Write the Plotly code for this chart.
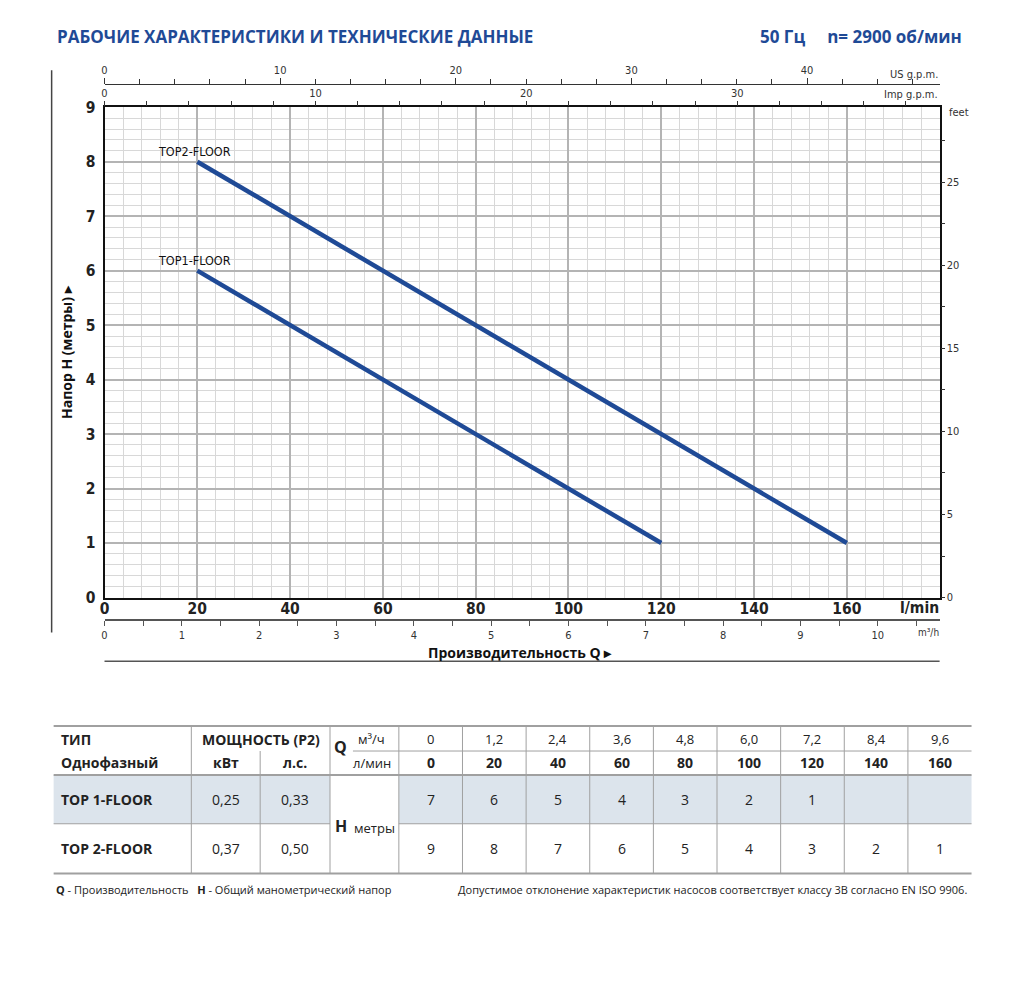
import plotly.graph_objects as go

# данные таблицы
q_lmin = [0, 20, 40, 60, 80, 100, 120, 140, 160]
q_m3h = ["0", "1,2", "2,4", "3,6", "4,8", "6,0", "7,2", "8,4", "9,6"]
models = ["TOP 1-FLOOR", "TOP 2-FLOOR"]
curve_labels = ["TOP1-FLOOR", "TOP2-FLOOR"]
power_kw = ["0,25", "0,37"]
power_hp = ["0,33", "0,50"]
head_top1 = [7, 6, 5, 4, 3, 2, 1]
head_top2 = [9, 8, 7, 6, 5, 4, 3, 2, 1]

# коэффициенты пересчёта
LMIN_PER_USGPM = 3.785411784
LMIN_PER_IMPGPM = 4.54609
M_PER_FT = 0.3048

# размер фигуры и поправка на поля страницы
OFF = 8
W, H = 1024 - 2 * OFF, 997 - 2 * OFF
BLUE = '#1f4a96'
NARROW = 'DejaVu Sans Condensed, Liberation Sans Narrow, sans-serif'
SANS = 'Open Sans, Noto Sans, sans-serif'


def px(x):
    x = (x - 3.3) / 0.9973
    return (x - OFF) / W


def py(y):
    y = (y - 6.6) / 0.985
    return 1 - (y - OFF) / H


fig = go.Figure()

curves = [(curve_labels[0], head_top1), (curve_labels[1], head_top2)]

# кривые (точка Q=0 в таблице не рисуется)
for name, heads in curves:
    fig.add_trace(go.Scatter(
        x=q_lmin[1:len(heads)], y=heads[1:], mode='lines', name=name,
        line=dict(color=BLUE, width=4.5), hoverinfo='skip'))

# те же кривые в других единицах, невидимые - чтобы появились доп. оси
for name, heads in curves:
    qs = q_lmin[1:len(heads)]
    fig.add_trace(go.Scatter(x=[q / LMIN_PER_USGPM for q in qs], y=heads[1:], xaxis='x2', yaxis='y',
                             mode='lines', opacity=0, hoverinfo='skip'))
    fig.add_trace(go.Scatter(x=[q / LMIN_PER_IMPGPM for q in qs], y=heads[1:], xaxis='x3', yaxis='y',
                             mode='lines', opacity=0, hoverinfo='skip'))
    fig.add_trace(go.Scatter(x=[q * 60 / 1000 for q in qs], y=heads[1:], xaxis='x4', yaxis='y',
                             mode='lines', opacity=0, hoverinfo='skip'))
    fig.add_trace(go.Scatter(x=qs, y=[h / M_PER_FT for h in heads[1:]], xaxis='x', yaxis='y2',
                             mode='lines', opacity=0, hoverinfo='skip'))

annotations = []
shapes = []

for name, heads in curves:
    annotations.append(dict(x=q_lmin[1], y=heads[1], xref='x', yref='y', text=name,
                            showarrow=False, xanchor='center', yanchor='bottom',
                            xshift=-3, yshift=1,
                            font=dict(family=NARROW, size=12.5, color='#111')))

# заголовок
annotations.append(dict(x=px(53), y=py(34), xref='paper', yref='paper', xanchor='left', yanchor='middle',
                        text='<b>РАБОЧИЕ ХАРАКТЕРИСТИКИ И ТЕХНИЧЕСКИЕ ДАННЫЕ</b>', showarrow=False,
                        font=dict(family=SANS, size=17, color=BLUE)))
annotations.append(dict(x=px(964), y=py(34), xref='paper', yref='paper', xanchor='right', yanchor='middle',
                        text='<b>50 Гц     n= 2900 об/мин</b>', showarrow=False,
                        font=dict(family=SANS, size=17, color=BLUE)))

# подписи осей
small = dict(family=NARROW, size=11, color='#333')
ax_notes = [
    dict(x=px(940), y=py(72), text='US g.p.m.', xanchor='right', font=small),
    dict(x=px(940), y=py(92), text='Imp g.p.m.', xanchor='right', font=small),
    dict(x=px(947), y=py(110), text='feet', xanchor='left', font=small),
    dict(x=px(941), y=py(607), text='l/min', xanchor='right',
         font=dict(family=NARROW, size=15.5, color='#222', weight='bold')),
    dict(x=px(941), y=py(632), text='m³/h', xanchor='right', font=dict(family=NARROW, size=10, color='#333')),
    dict(x=px(519), y=py(652), text='<b>Производительность Q ▸</b>', xanchor='center',
         font=dict(family=SANS, size=14, color='#111')),
    dict(x=px(65), y=py(351), text='<b>Напор H (метры) ▸</b>', xanchor='center', textangle=-90,
         font=dict(family=SANS, size=14, color='#111')),
]
for a in ax_notes:
    a.update(xref='paper', yref='paper', yanchor='middle', showarrow=False)
annotations += ax_notes

shapes.append(dict(type='line', xref='paper', yref='paper', x0=px(50), x1=px(50), y0=py(68), y1=py(632),
                   line=dict(color='#444', width=1.5)))
shapes.append(dict(type='line', xref='paper', yref='paper', x0=px(103), x1=px(940), y0=py(661), y1=py(661),
                   line=dict(color='#555', width=1.5)))

# таблица
tl, tr = 52, 972
c_typ, c_kw, c_hp, c_val = 190, 259, 329, 398
cw = (tr - c_val) / len(q_lmin)
y_top, y_mid, y_hdr, y_r1, y_bot = 726, 751, 775, 824, 874
GRID = '#a0a0a0'
SHADE = '#dce4ec'


def rect(x0, x1, y0, y1):
    shapes.append(dict(type='rect', xref='paper', yref='paper', x0=px(x0), x1=px(x1), y0=py(y0), y1=py(y1),
                       fillcolor=SHADE, line=dict(width=0), layer='below'))


def hline(y, x0, x1, w=1):
    shapes.append(dict(type='line', xref='paper', yref='paper', x0=px(x0), x1=px(x1), y0=py(y), y1=py(y),
                       line=dict(color=GRID, width=w)))


def vline(x, y0, y1, w=1):
    shapes.append(dict(type='line', xref='paper', yref='paper', x0=px(x), x1=px(x), y0=py(y0), y1=py(y1),
                       line=dict(color=GRID, width=w)))


def txt(x, y, s, anchor='center', size=14, color='#222'):
    annotations.append(dict(x=px(x), y=py(y), xref='paper', yref='paper', text=s, showarrow=False,
                            xanchor=anchor, yanchor='middle', font=dict(family=SANS, size=size, color=color)))


rect(tl, c_hp, y_hdr, y_r1)
rect(c_val, tr, y_hdr, y_r1)
hline(y_top, tl, tr, 2)
hline(y_mid, 352, tr, 1)
hline(y_hdr, tl, tr, 2)
hline(y_r1, tl, c_hp, 1.2)
hline(y_r1, c_val, tr, 1.2)
hline(y_bot, tl, tr, 2)
vline(c_typ, y_top, y_bot)
vline(c_kw, y_mid, y_bot)
vline(c_hp, y_top, y_bot)
for k in range(len(q_lmin)):
    vline(c_val + k * cw, y_top, y_bot)

r1, r2, r3, r4 = 739, 763, 800, 849
txt(57, r1, '<b>ТИП</b>', 'left')
txt(57, r2, '<b>Однофазный</b>', 'left')
txt((c_typ + c_hp) / 2, r1, '<b>МОЩНОСТЬ (Р2)</b>')
txt((c_typ + c_kw) / 2, r2, '<b>кВт</b>')
txt((c_kw + c_hp) / 2, r2, '<b>л.с.</b>')
txt(340, 747, '<b>Q</b>', size=16)
txt(371, r1, 'м³/ч', size=13)
txt(371, r2, 'л/мин', size=13)
txt(340, 826, '<b>H</b>', size=16)
txt(374, 828, 'метры', size=13)
for i, (qm, ql) in enumerate(zip(q_m3h, q_lmin)):
    cx = c_val + (i + 0.5) * cw
    txt(cx, r1, qm, size=13)
    txt(cx, r2, '<b>%d</b>' % ql)
for ry, name, kw, hp, heads in [(r3, models[0], power_kw[0], power_hp[0], head_top1),
                                 (r4, models[1], power_kw[1], power_hp[1], head_top2)]:
    txt(57, ry, '<b>%s</b>' % name, 'left')
    txt((c_typ + c_kw) / 2, ry, kw)
    txt((c_kw + c_hp) / 2, ry, hp)
    for i, h in enumerate(heads):
        txt(c_val + (i + 0.5) * cw, ry, str(h))

txt(52, 890, '<b>Q</b> - Производительность   <b>H</b> - Общий манометрический напор', 'left', size=11)
txt(969, 890, 'Допустимое отклонение характеристик насосов соответствует классу 3B согласно EN ISO 9906.',
    'right', size=11)

x_dom = [px(103), px(940)]
y_dom = [py(597), py(105)]
q_max = 180
h_max = 9

num_font = dict(family=NARROW, size=15.5, color='#222', weight='bold')
unit_font = dict(family=NARROW, size=11, color='#333')

fig.update_layout(
    width=W, height=H,
    margin=dict(l=0, r=0, t=0, b=0),
    plot_bgcolor='white', paper_bgcolor='white',
    showlegend=False,
    xaxis=dict(domain=x_dom, range=[0, q_max], anchor='y', tick0=0,
               showgrid=True, gridcolor='#b4b4b4', gridwidth=1.5,
               minor=dict(dtick=4, showgrid=True, gridcolor='#d8d8d8', gridwidth=1.2),
               showline=True, linecolor='#111', linewidth=2, mirror=True, zeroline=False,
               ticks='', ticklabelstandoff=-4, tickfont=num_font, tickvals=q_lmin),
    yaxis=dict(domain=y_dom, range=[0, h_max], anchor='x', dtick=1, tick0=0,
               showgrid=True, gridcolor='#b4b4b4', gridwidth=1.5,
               minor=dict(dtick=0.2, showgrid=True, gridcolor='#d8d8d8', gridwidth=1.2),
               showline=True, linecolor='#111', linewidth=2, mirror=True, zeroline=False,
               ticks='', ticklabelstandoff=4, tickfont=num_font),
    xaxis2=dict(overlaying='x', anchor='free', position=py(82), side='top',
                range=[0, q_max / LMIN_PER_USGPM], dtick=10, tick0=0,
                showline=True, linecolor='#333', linewidth=1, showgrid=False, zeroline=False,
                ticks='outside', ticklen=6, tickcolor='#333',
                minor=dict(dtick=2, ticks='outside', ticklen=5, tickcolor='#333'),
                tickfont=unit_font),
    xaxis3=dict(overlaying='x', anchor='y', side='top',
                range=[0, q_max / LMIN_PER_IMPGPM], dtick=10, tick0=0,
                showline=False, showgrid=False, zeroline=False,
                ticks='outside', ticklen=5, tickcolor='#333',
                minor=dict(dtick=2, ticks='outside', ticklen=5, tickcolor='#333'),
                tickfont=unit_font),
    xaxis4=dict(overlaying='x', anchor='free', position=py(620), side='bottom',
                range=[0, q_max * 60 / 1000], dtick=1, tick0=0,
                showline=True, linecolor='#555', linewidth=1.5, showgrid=False, zeroline=False,
                ticks='outside', ticklen=5, tickcolor='#555',
                minor=dict(dtick=0.5, ticks='outside', ticklen=5, tickcolor='#555'),
                tickfont=unit_font),
    yaxis2=dict(overlaying='y', anchor='x', side='right',
                range=[0, h_max / M_PER_FT], dtick=5, tick0=0,
                showline=False, showgrid=False, zeroline=False,
                ticks='outside', ticklen=4, tickcolor='#333',
                minor=dict(dtick=2.5, ticks='outside', ticklen=4, tickcolor='#333'),
                tickfont=unit_font),
    annotations=annotations,
    shapes=shapes,
)

fig.write_html("out.html")
